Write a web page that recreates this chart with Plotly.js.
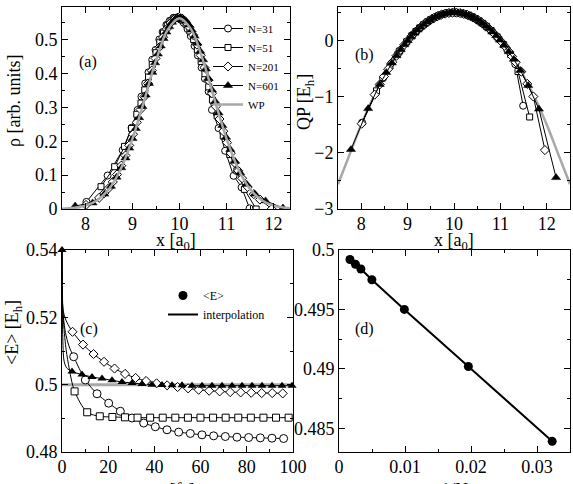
<!DOCTYPE html>
<html>
<head>
<meta charset="utf-8">
<script src="https://cdn.plot.ly/plotly-3.0.1.min.js"></script>
<style>
  html, body { margin: 0; padding: 0; background: #fff; overflow: hidden; }
  #plot { width: 573px; height: 484px; }
</style>
</head>
<body>
<div id="plot"></div>
<script>
// ---------- (a) density and (b) quantum potential, per trajectory ensemble ----------
const xN31 = [8.02,8.47,8.79,8.98,9.11,9.19,9.27,9.34,9.42,9.49,9.57,9.64,9.72,9.79,9.87,9.94,10.02,10.09,10.17,10.24,10.32,10.39,10.47,10.54,10.62,10.69,10.83,10.97,11.15,11.32,11.49];
const rhoN31 = [0.021,0.099,0.174,0.240,0.293,0.332,0.371,0.404,0.441,0.470,0.501,0.523,0.544,0.556,0.565,0.566,0.560,0.550,0.532,0.511,0.482,0.454,0.418,0.385,0.347,0.293,0.239,0.172,0.098,0.064,0.002];
const qpN31 = [-1.460,-0.670,-0.232,-0.020,0.104,0.172,0.234,0.282,0.332,0.370,0.408,0.435,0.461,0.478,0.492,0.498,0.500,0.496,0.486,0.471,0.449,0.424,0.390,0.354,0.308,0.262,0.156,0.030,-0.161,-0.42,-1.16];

const xN51 = [8.33,8.62,8.83,8.98,9.09,9.18,9.26,9.34,9.42,9.50,9.58,9.66,9.74,9.82,9.90,9.98,10.06,10.14,10.22,10.30,10.38,10.46,10.54,10.62,10.70,10.80,10.93,11.07,11.22,11.38,11.63];
const rhoN51 = [0.066,0.125,0.185,0.238,0.280,0.313,0.352,0.390,0.427,0.462,0.493,0.520,0.542,0.556,0.565,0.565,0.559,0.546,0.526,0.501,0.470,0.436,0.400,0.361,0.322,0.275,0.216,0.161,0.113,0.058,0.000];
const qpN51 = [-0.894,-0.452,-0.184,-0.020,0.086,0.164,0.226,0.282,0.332,0.375,0.412,0.442,0.466,0.484,0.495,0.500,0.498,0.490,0.476,0.455,0.428,0.394,0.354,0.308,0.255,0.180,0.068,-0.072,-0.244,-0.55,-1.36];

const xN201 = [8.01,8.29,8.40,8.49,8.58,8.67,8.76,8.85,8.93,9.01,9.09,9.17,9.25,9.33,9.41,9.49,9.57,9.65,9.73,9.81,9.89,9.97,10.05,10.13,10.21,10.29,10.37,10.45,10.53,10.61,10.69,10.77,10.85,10.93,11.01,11.09,11.17,11.25,11.33,11.45,11.58,11.71,11.96];
const rhoN201 = [0.012,0.033,0.047,0.061,0.080,0.102,0.128,0.158,0.188,0.221,0.256,0.294,0.332,0.371,0.409,0.445,0.478,0.508,0.532,0.550,0.561,0.566,0.563,0.553,0.537,0.514,0.486,0.454,0.418,0.381,0.342,0.303,0.266,0.230,0.196,0.165,0.137,0.113,0.091,0.065,0.044,0.028,0.000];
const qpN201 = [-1.480,-0.962,-0.780,-0.640,-0.508,-0.384,-0.269,-0.161,-0.072,0.010,0.086,0.156,0.219,0.276,0.326,0.370,0.408,0.439,0.464,0.482,0.494,0.500,0.499,0.492,0.478,0.458,0.432,0.399,0.360,0.314,0.262,0.204,0.139,0.068,-0.010,-0.094,-0.184,-0.281,-0.384,-0.551,-0.77,-0.995,-1.95];

const xN601 = [7.78,8.15,8.40,8.54,8.66,8.76,8.85,8.93,9.00,9.07,9.14,9.21,9.28,9.35,9.42,9.48,9.54,9.60,9.66,9.72,9.78,9.84,9.90,9.96,10.02,10.08,10.14,10.20,10.26,10.32,10.38,10.44,10.50,10.56,10.62,10.69,10.76,10.83,10.91,10.99,11.08,11.18,11.29,11.43,11.60,11.83,12.20];
const rhoN601 = [0.009,0.018,0.044,0.067,0.094,0.122,0.151,0.180,0.208,0.238,0.270,0.303,0.337,0.371,0.404,0.432,0.458,0.482,0.504,0.523,0.539,0.552,0.560,0.565,0.566,0.562,0.555,0.544,0.529,0.511,0.490,0.466,0.441,0.414,0.385,0.352,0.318,0.284,0.247,0.212,0.176,0.141,0.107,0.073,0.044,0.024,0.003];
const qpN601 = [-1.94,-1.211,-0.780,-0.566,-0.398,-0.269,-0.161,-0.072,0.000,0.068,0.130,0.188,0.241,0.289,0.332,0.365,0.394,0.420,0.442,0.461,0.476,0.487,0.495,0.499,0.500,0.497,0.490,0.480,0.466,0.449,0.428,0.403,0.375,0.343,0.308,0.262,0.211,0.156,0.086,0.010,-0.083,-0.196,-0.332,-0.53,-0.80,-1.22,-2.44];

// exact wave packet (WP) reference
const xWP = [7.5,7.75,8.0,8.25,8.5,8.75,9.0,9.25,9.5,9.75,10.0,10.25,10.5,10.75,11.0,11.25,11.5,11.75,12.0,12.25,12.5];
const rhoWP = [0.001,0.004,0.010,0.026,0.059,0.118,0.208,0.321,0.439,0.530,0.564,0.530,0.439,0.321,0.208,0.118,0.059,0.026,0.010,0.004,0.001];
const qpWP = [-2.56,-2.03,-1.50,-1.03,-0.625,-0.281,0.0,0.219,0.375,0.469,0.5,0.469,0.375,0.219,0.0,-0.281,-0.625,-1.03,-1.50,-2.03,-2.56];

// ---------- (c) mean energy versus time ----------
const tN31 = [5.05,10.1,15.15,20.2,25.25,30.3,35.35,40.4,45.45,50.5,55.55,60.6,65.65,70.7,75.75,80.8,85.85,90.9,95.95];
const eN31 = [0.5083,0.5014,0.4973,0.4945,0.4921,0.4901,0.4886,0.4875,0.4866,0.4859,0.4855,0.4851,0.4848,0.4846,0.4844,0.4843,0.4842,0.4841,0.4840];
const tN51 = [5.45,10.9,16.35,21.8,27.25,32.7,38.15,43.6,49.05,54.5,59.95,65.4,70.85,76.3,81.75,87.2,92.65,98.1];
const eN51 = [0.4980,0.4918,0.4906,0.4904,0.4903,0.4902,0.4902,0.4902,0.4902,0.4902,0.4902,0.4902,0.4902,0.4902,0.4902,0.4902,0.4902,0.4902];
const tN201 = [4.55,9.1,13.65,18.2,22.75,27.3,31.85,36.4,40.95,45.5,50.05,54.6,59.15,63.7,68.25,72.8,77.35,81.9,86.45,91,95.55];
const eN201 = [0.5157,0.5119,0.5091,0.5068,0.5048,0.5032,0.5020,0.5011,0.5004,0.4998,0.4993,0.4989,0.4985,0.4982,0.4980,0.4978,0.4977,0.4976,0.4975,0.4975,0.4974];
const tN601 = [0,4.33,8.66,12.99,17.32,21.65,25.98,30.31,34.64,38.97,43.3,47.63,51.96,56.29,60.62,64.95,69.28,73.61,77.94,82.27,86.6,90.93,95.26,99.59];
const eN601 = [0.54,0.5039,0.5030,0.5023,0.5018,0.5013,0.5008,0.5005,0.5002,0.5000,0.4999,0.4998,0.4998,0.4997,0.4997,0.4997,0.4997,0.4997,0.4997,0.4997,0.4997,0.4997,0.4997,0.4997];
// fast initial transient of each interpolating curve
const tEarly31 = [0,0.4,1.5,3.0],  eEarly31 = [0.54,0.5217,0.5155,0.5115];
const tEarly51 = [0,0.4,1.5,2.8],  eEarly51 = [0.54,0.5215,0.5120,0.5060];
const tEarly201 = [0,0.4,1.5,3.0], eEarly201 = [0.54,0.5225,0.5195,0.5174];
const tEarly601 = [0.3,0.9,2.0],   eEarly601 = [0.515,0.507,0.5050];
// exact ground-state energy
const tExact = [0,100];
const eExact = [0.5,0.5];

// ---------- (d) long-time energy versus 1/N ----------
const invN = [0.00166,0.00249,0.00332,0.00498,0.0099,0.0196,0.0323];
const eInf = [0.4992,0.4988,0.4984,0.4975,0.4950,0.4902,0.4839];

// ---------- styling ----------
const FONT = 'Liberation Serif, Times New Roman, serif';
const BLACK = '#000';
const GRAY = '#a8a8a8';
const TICK_SIZE = 18, TITLE_SIZE = 18;

function openMarker(symbol, size) {
  return { symbol: symbol, size: size, color: '#fff', line: { color: BLACK, width: 1 } };
}
const mkCirc = openMarker('circle', 7);
const mkSq = openMarker('square', 6);
const mkDia = openMarker('diamond', 7);
const mkTri = { symbol: 'triangle-up', size: 8, color: BLACK, line: { color: BLACK, width: 0.5 } };

function merge(tA, eA, tB, eB) {
  const pts = tA.map((t, i) => [t, eA[i]]).concat(tB.map((t, i) => [t, eB[i]]));
  pts.sort((p, q) => p[0] - q[0]);
  return { t: pts.map(p => p[0]), e: pts.map(p => p[1]) };
}

const traces = [];

// (b) WP underneath the ensembles
traces.push({ x: xWP, y: qpWP, xaxis: 'x2', yaxis: 'y2', mode: 'lines',
  line: { color: GRAY, width: 2.5, shape: 'spline' }, showlegend: false, hoverinfo: 'skip' });

const ensembles = [
  { name: 'N=31', x: xN31, rho: rhoN31, qp: qpN31, mk: mkCirc },
  { name: 'N=51', x: xN51, rho: rhoN51, qp: qpN51, mk: mkSq },
  { name: 'N=201', x: xN201, rho: rhoN201, qp: qpN201, mk: mkDia },
  { name: 'N=601', x: xN601, rho: rhoN601, qp: qpN601, mk: mkTri }
];
ensembles.forEach(s => {
  traces.push({ x: s.x, y: s.rho, xaxis: 'x', yaxis: 'y', mode: 'lines+markers', name: s.name,
    line: { color: BLACK, width: 1 }, marker: s.mk, legend: 'legend' });
});
ensembles.forEach(s => {
  traces.push({ x: s.x, y: s.qp, xaxis: 'x2', yaxis: 'y2', mode: 'lines+markers', name: s.name,
    line: { color: BLACK, width: 1 }, marker: s.mk, showlegend: false });
});
// (a) WP drawn over the ensembles
traces.push({ x: xWP, y: rhoWP, xaxis: 'x', yaxis: 'y', mode: 'lines', name: 'WP',
  line: { color: GRAY, width: 2.5, shape: 'spline' }, legend: 'legend' });

// (c)
traces.push({ x: tExact, y: eExact, xaxis: 'x3', yaxis: 'y3', mode: 'lines',
  line: { color: GRAY, width: 3 }, showlegend: false });
const energies = [
  { t: tN31, e: eN31, te: tEarly31, ee: eEarly31, mk: openMarker('circle', 8) },
  { t: tN51, e: eN51, te: tEarly51, ee: eEarly51, mk: openMarker('square', 7) },
  { t: tN201, e: eN201, te: tEarly201, ee: eEarly201, mk: openMarker('diamond', 7) },
  { t: tN601, e: eN601, te: tEarly601, ee: eEarly601, mk: { symbol: 'triangle-up', size: 8, color: BLACK } }
];
energies.forEach(s => {
  const m = merge(s.te, s.ee, s.t, s.e);
  traces.push({ x: m.t, y: m.e, xaxis: 'x3', yaxis: 'y3', mode: 'lines',
    line: { color: BLACK, width: 1, shape: 'spline', smoothing: 0.8 }, showlegend: false });
});
energies.forEach(s => {
  traces.push({ x: s.t, y: s.e, xaxis: 'x3', yaxis: 'y3', mode: 'markers',
    marker: s.mk, showlegend: false, cliponaxis: false });
});

// (d)
traces.push({ x: invN, y: eInf, xaxis: 'x4', yaxis: 'y4', mode: 'lines', name: 'interpolation',
  line: { color: BLACK, width: 2 }, legend: 'legend2', legendrank: 2 });
traces.push({ x: invN, y: eInf, xaxis: 'x4', yaxis: 'y4', mode: 'markers', name: '&lt;E&gt;',
  marker: { symbol: 'circle', size: 9, color: BLACK }, legend: 'legend2', legendrank: 1 });

function ax(extra, minorDtick) {
  return Object.assign({
    showline: true, mirror: 'ticks', linecolor: BLACK, linewidth: 1,
    ticks: 'inside', ticklen: 6, tickwidth: 1, tickcolor: BLACK,
    showgrid: false, zeroline: false, fixedrange: true,
    tickfont: { family: FONT, size: TICK_SIZE, color: BLACK },
    minor: { ticks: 'inside', ticklen: 3, tickwidth: 1, tickcolor: BLACK, showgrid: false, dtick: minorDtick }
  }, extra);
}

const W = 573, H = 484;
const px = v => v / W, py = v => 1 - v / H;
const LABEL = { family: FONT, size: 16, color: BLACK };
const TITLE = { family: FONT, size: TITLE_SIZE, color: BLACK };

// axis titles and panel tags, placed in page coordinates
function note(text, x, y, font, angle) {
  return { text: text, xref: 'paper', yref: 'paper', x: px(x), y: py(y),
    xanchor: 'center', yanchor: 'middle', showarrow: false, font: font, textangle: angle || 0 };
}
function tag(text, axx, axy, fx, fy) {
  return { text: text, xref: axx + ' domain', yref: axy + ' domain', x: fx, y: fy,
    xanchor: 'center', yanchor: 'middle', showarrow: false, font: LABEL };
}

const layout = {
  width: W, height: H,
  margin: { l: 0, r: 0, t: 0, b: 0 },
  paper_bgcolor: '#fff', plot_bgcolor: '#fff',
  font: { family: FONT, color: BLACK },
  xaxis: ax({ domain: [px(62), px(290)], range: [7.5, 12.35], dtick: 1, anchor: 'y', ticklabelstandoff: -2 }, 0.5),
  yaxis: ax({ domain: [py(209), py(7)], range: [0, 0.597], dtick: 0.1, anchor: 'x' }, 0.05),
  xaxis2: ax({ domain: [px(338), px(570)], range: [7.5, 12.5], dtick: 1, anchor: 'y2', ticklabelstandoff: -2 }, 0.5),
  yaxis2: ax({ domain: [py(209), py(7)], range: [-3, 0.6], dtick: 1, anchor: 'x2' }, 0.5),
  xaxis3: ax({ domain: [px(62), px(293)], range: [0, 100], dtick: 20, anchor: 'y3', ticklabelstandoff: -2 }, 10),
  yaxis3: ax({ domain: [py(452), py(250)], range: [0.48, 0.54], dtick: 0.02, anchor: 'x3' }, 0.01),
  xaxis4: ax({ domain: [px(339), px(570)], range: [0, 0.035], dtick: 0.01, anchor: 'y4', ticklabelstandoff: -2 }, 0.005),
  yaxis4: ax({ domain: [py(452), py(250)], range: [0.483, 0.5], tick0: 0.485, dtick: 0.005, anchor: 'x4' }, 0.0025),
  legend: {
    x: px(208), y: py(14), xanchor: 'left', yanchor: 'top',
    bgcolor: 'rgba(0,0,0,0)', borderwidth: 0, tracegroupgap: 0,
    font: { family: FONT, size: 11, color: BLACK }
  },
  legend2: {
    x: px(163), y: py(281), xanchor: 'left', yanchor: 'top',
    bgcolor: 'rgba(0,0,0,0)', borderwidth: 0,
    font: { family: FONT, size: 12, color: BLACK }
  },
  annotations: [
    tag('(a)', 'x', 'y', 0.114, 0.728),
    tag('(b)', 'x2', 'y2', 0.114, 0.762),
    tag('(c)', 'x3', 'y3', 0.117, 0.611),
    tag('(d)', 'x4', 'y4', 0.110, 0.611),
    note('x [a<sub>0</sub>]', 176, 241, TITLE),
    note('x [a<sub>0</sub>]', 454, 241, TITLE),
    note('t [fs]', 177.5, 490, TITLE),
    note('1/N', 454.5, 490, TITLE),
    note('ρ [arb. units]', 14, 101, TITLE, -90),
    note('QP [E<sub>h</sub>]', 306, 102, TITLE, -90),
    note('&lt;E&gt; [E<sub>h</sub>]', 13, 333, TITLE, -90)
  ],
  showlegend: true
};

Plotly.newPlot('plot', traces, layout, { displayModeBar: false, staticPlot: true });
</script>
</body>
</html>
